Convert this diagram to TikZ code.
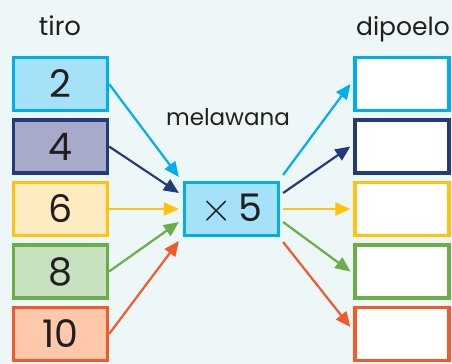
\documentclass[tikz,border=0pt]{standalone}
\usepackage{fontspec}
\setmainfont{Poppins}
\usetikzlibrary{arrows.meta,positioning,calc}
\definecolor{MulBg}{HTML}{EEF7F8}
\definecolor{MulInk}{HTML}{231F20}
\definecolor{MulCyan}{HTML}{00AEEF}
\definecolor{MulCyanFill}{HTML}{A6E1FA}
\definecolor{MulNavy}{HTML}{233B7A}
\definecolor{MulNavyFill}{HTML}{A8AACA}
\definecolor{MulYellow}{HTML}{FFC20F}
\definecolor{MulYellowFill}{HTML}{FFEBC0}
\definecolor{MulGreen}{HTML}{6BAE45}
\definecolor{MulGreenFill}{HTML}{C7E1C0}
\definecolor{MulOrange}{HTML}{F15A2B}
\definecolor{MulOrangeFill}{HTML}{FDC9AA}
\tikzset{
  mul/box/.style={
    draw=#1,
    line width=1.6pt,
    fill=#1Fill,
    minimum width=47pt,
    minimum height=26.5pt,
    inner sep=0pt,
    text=MulInk,
    font=\fontsize{19}{19}\selectfont
  },
  mul/empty/.style={
    draw=#1,
    line width=1.6pt,
    fill=white,
    minimum width=47pt,
    minimum height=26.5pt,
    inner sep=0pt
  },
  mul/arrow/.style={-{Triangle[length=7.5pt,width=6.5pt]}, line width=1.1pt, draw=#1},
  mul/label/.style={font=\fontsize{12.5}{12.5}\selectfont, text=MulInk, anchor=base}
}

\begin{document}
\begin{tikzpicture}[x=0.5pt,y=-0.5pt]
  \fill[MulBg] (0,0) rectangle (452,364);
  \useasboundingbox (0,0) rectangle (452,364);
  % input column
  \node[mul/box=MulCyan] (in1) at (60.5,84) {2};
  \node[mul/box=MulNavy] (in2) at (60.5,146.5) {4};
  \node[mul/box=MulYellow] (in3) at (60.5,209) {6};
  \node[mul/box=MulGreen] (in4) at (60.5,271.5) {8};
  \node[mul/box=MulOrange] (in5) at (60.5,334) {10};
  % rule
  \node[mul/box=MulCyan] (mul) at (231.5,209) {{\fontsize{22}{22}\selectfont$\times$}\,5};
  % output column
  \node[mul/empty=MulCyan] (out1) at (402,84) {};
  \node[mul/empty=MulNavy] (out2) at (402,146.5) {};
  \node[mul/empty=MulYellow] (out3) at (402,209) {};
  \node[mul/empty=MulGreen] (out4) at (402,271.5) {};
  \node[mul/empty=MulOrange] (out5) at (402,334) {};
  % headings
  \node[mul/label,font=\fontsize{13}{13}\selectfont] (tiro) at (60,35) {tiro};
  \node[mul/label] (dipoelo) at (403,35) {dipoelo};
  \node[mul/label,font=\fontsize{11.5}{11.5}\selectfont] (melawana) at (228,126) {melawana};
  \foreach \i/\col/\a/\b/\c in {1/MulCyan/-32/-34/0,2/MulNavy/-16/-16/0,3/MulYellow/0/0/0,4/MulGreen/13/13/0,5/MulOrange/32/33/-7}{
    \draw[mul/arrow=\col] (in\i.east) -- ($(mul.west)+(-4,\a)$);
    \draw[mul/arrow=\col] ($(mul.east)+(3,\b)$) -- ($(out\i.west)+(-3,\c)$);
  }
\end{tikzpicture}
\end{document}
